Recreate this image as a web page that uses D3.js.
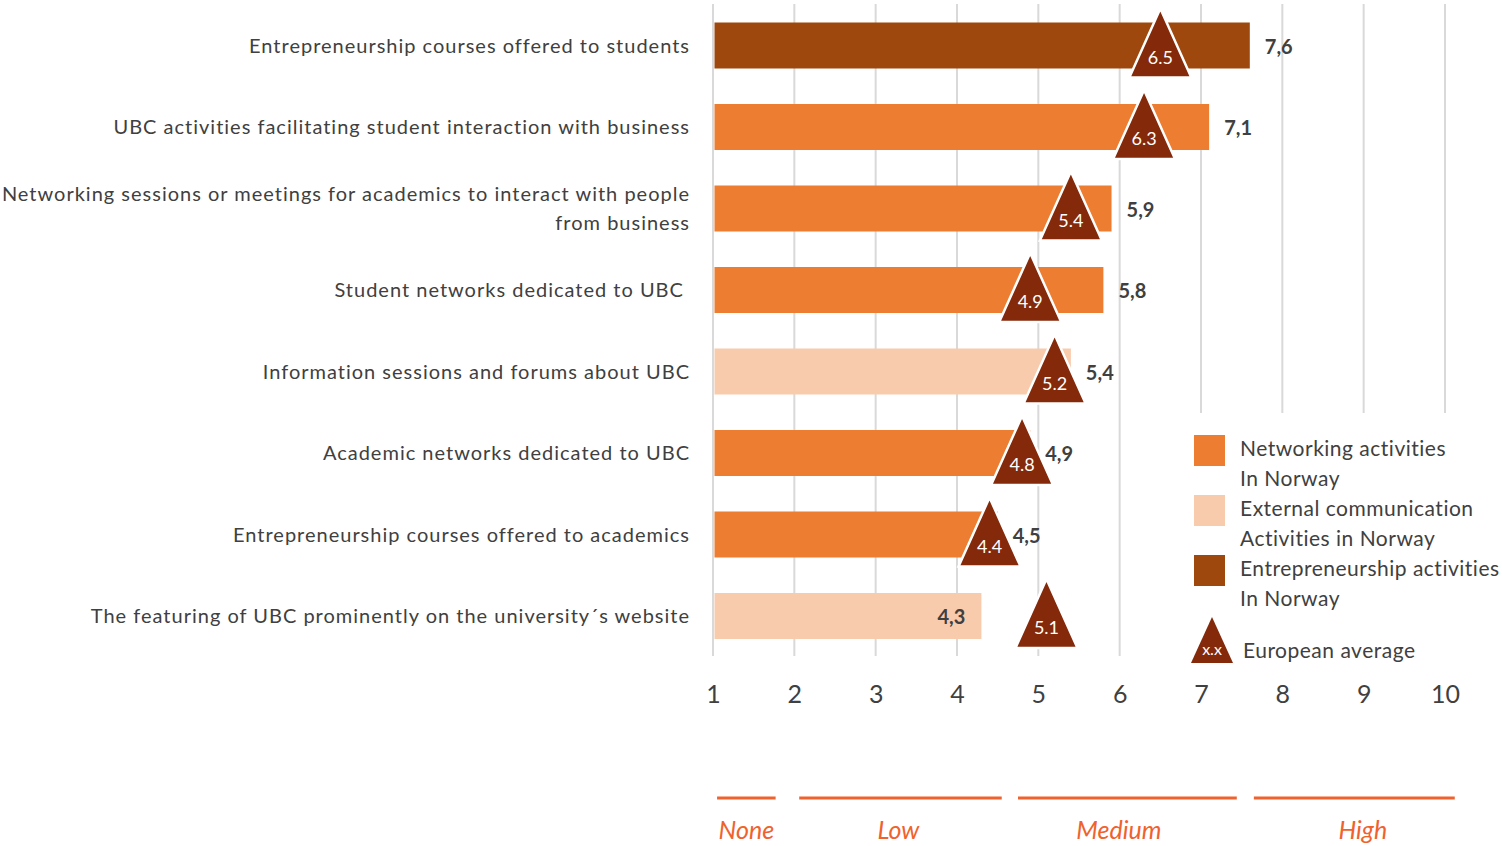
<!DOCTYPE html>
<html>
<head>
<meta charset="utf-8">
<script src="https://cdn.jsdelivr.net/npm/d3@7"></script>
<style>
  html, body { margin: 0; padding: 0; background: #ffffff; }
  svg { display: block; }
  text { font-family: Lato, "Open Sans", sans-serif; }
</style>
</head>
<body>
<svg id="chart" width="1502" height="846"></svg>
<script>
// Activity names (top to bottom); "\n" splits a label over two lines
const categories = [
  "Entrepreneurship courses offered to students",
  "UBC activities facilitating student interaction with business",
  "Networking sessions or meetings for academics to interact with people\nfrom business",
  "Student networks dedicated to UBC ",
  "Information sessions and forums about UBC",
  "Academic networks dedicated to UBC",
  "Entrepreneurship courses offered to academics",
  "The featuring of UBC prominently on the university\u00B4s website"
];
// Score in Norway for each activity
const norwayValues = [7.6, 7.1, 5.9, 5.8, 5.4, 4.9, 4.5, 4.3];
// European average for each activity
const europeanAverage = [6.5, 6.3, 5.4, 4.9, 5.2, 4.8, 4.4, 5.1];
// Activity group of each row
const activityGroup = ["entre", "net", "net", "net", "ext", "net", "net", "ext"];
// Axis ticks
const tickValues = [1, 2, 3, 4, 5, 6, 7, 8, 9, 10];
// Rating bands under the axis (extent on the score scale, and where the name sits)
const ratingBands = ["None", "Low", "Medium", "High"];
const ratingStart = [1.05, 2.06, 4.75, 7.65];
const ratingEnd = [1.77, 4.55, 7.44, 10.12];
const ratingLabelAt = [1.41, 3.28, 5.99, 8.99];
// Legend entries
const legendKeys = ["net", "ext", "entre"];
const legendLabels = [
  ["Networking activities", "In Norway"],
  ["External communication", "Activities in Norway"],
  ["Entrepreneurship activities", "In Norway"]
];

const groupColor = { net: "#ED7D31", ext: "#F8CBAD", entre: "#9E480E" };
const triColor = "#84290A";
const textColor = "#404040";
const bandColor = "#F0622D";

const svg = d3.select("#chart");

const x = d3.scaleLinear().domain([1, 10]).range([713, 1445]);
const y = d3.scalePoint().domain(d3.range(categories.length)).range([45.5, 616]);
const barH = 46;

// Vertical gridlines (the right-hand ones stop above the legend)
const gridTop = 4, gridBottom = 656, legendTop = 413;
svg.append("g").selectAll("line")
  .data(tickValues)
  .join("line")
  .attr("x1", d => x(d)).attr("x2", d => x(d))
  .attr("y1", gridTop)
  .attr("y2", d => x(d) > 1180 ? legendTop : gridBottom)
  .attr("stroke", "#D9D9D9")
  .attr("stroke-width", 2);

// Bars
svg.append("g").selectAll("rect")
  .data(norwayValues)
  .join("rect")
  .attr("x", x(1) + 1.5)
  .attr("y", (d, i) => y(i) - barH / 2)
  .attr("width", d => x(d) - x(1) - 1.5)
  .attr("height", barH)
  .attr("fill", (d, i) => groupColor[activityGroup[i]]);

// European average triangles
const triUp = 37, triDown = 32, triHalf = 31;
const tri = svg.append("g").selectAll("g")
  .data(europeanAverage)
  .join("g")
  .attr("transform", (d, i) => `translate(${x(d)},${y(i)})`);
tri.append("path")
  .attr("d", `M0,${-triUp} L${triHalf},${triDown} L${-triHalf},${triDown} Z`)
  .attr("fill", triColor)
  .attr("stroke", "#ffffff")
  .attr("stroke-width", 2.5)
  .attr("stroke-linejoin", "miter");
tri.append("text")
  .attr("y", triDown - 14)
  .attr("text-anchor", "middle")
  .attr("fill", "#ffffff")
  .attr("font-size", 18)
  .text(d => d.toFixed(1));

// Value labels (comma decimal); drawn inside the bar when the average marker sits past its end
svg.append("g").selectAll("text")
  .data(norwayValues)
  .join("text")
  .attr("x", (d, i) => europeanAverage[i] - d > 0.5 ? x(d) - 16 : x(d) + 15)
  .attr("y", (d, i) => y(i) + 8)
  .attr("text-anchor", (d, i) => europeanAverage[i] - d > 0.5 ? "end" : "start")
  .attr("font-size", 20)
  .attr("font-weight", 700)
  .attr("fill", textColor)
  .text(d => d.toFixed(1).replace(".", ","));

// Category labels
const catG = svg.append("g");
categories.forEach((c, i) => {
  const lines = c.split("\n");
  const t = catG.append("text")
    .attr("text-anchor", "end")
    .attr("font-size", 20)
    .attr("letter-spacing", 1)
    .attr("fill", textColor)
    .style("white-space", "pre");
  lines.forEach((ln, k) => {
    t.append("tspan")
      .attr("x", 690)
      .attr("y", y(i) + 7 + (k - (lines.length - 1) / 2) * 29)
      .text(ln);
  });
});

// Axis tick labels
const axis = d3.axisBottom(x).tickValues(tickValues).tickSize(0).tickPadding(0).tickFormat(d3.format("d"));
const axG = svg.append("g").attr("transform", "translate(0,683)").call(axis);
axG.select(".domain").remove();
axG.selectAll("text")
  .attr("font-size", 25)
  .attr("font-family", "Lato, sans-serif")
  .attr("fill", textColor)
  .attr("dy", "0.8em");

// Rating bands
const bandG = svg.append("g");
ratingBands.forEach((b, i) => {
  bandG.append("line")
    .attr("x1", x(ratingStart[i])).attr("x2", x(ratingEnd[i]))
    .attr("y1", 798).attr("y2", 798)
    .attr("stroke", bandColor)
    .attr("stroke-width", 3);
  bandG.append("text")
    .attr("x", x(ratingLabelAt[i]))
    .attr("y", 839)
    .attr("text-anchor", "middle")
    .attr("font-size", 25)
    .attr("font-style", "italic")
    .attr("fill", bandColor)
    .text(b);
});

// Legend
const leg = svg.append("g");
legendKeys.forEach((k, i) => {
  const top = 435 + i * 60;
  leg.append("rect")
    .attr("x", 1194).attr("y", top)
    .attr("width", 31).attr("height", 31)
    .attr("fill", groupColor[k]);
  legendLabels[i].forEach((ln, j) => {
    leg.append("text")
      .attr("x", 1240).attr("y", top + 21 + j * 29.5)
      .attr("font-size", 21)
      .attr("letter-spacing", 0.5)
      .attr("fill", textColor)
      .text(ln);
  });
});
const legTri = leg.append("g").attr("transform", "translate(1212,640)");
legTri.append("path")
  .attr("d", "M0,-23 L21,23 L-21,23 Z")
  .attr("fill", triColor);
legTri.append("text")
  .attr("y", 15)
  .attr("text-anchor", "middle")
  .attr("fill", "#ffffff")
  .attr("font-size", 16)
  .text("x.x");
leg.append("text")
  .attr("x", 1243).attr("y", 658)
  .attr("font-size", 21)
  .attr("letter-spacing", 0.5)
  .attr("fill", textColor)
  .text("European average");
</script>
</body>
</html>
